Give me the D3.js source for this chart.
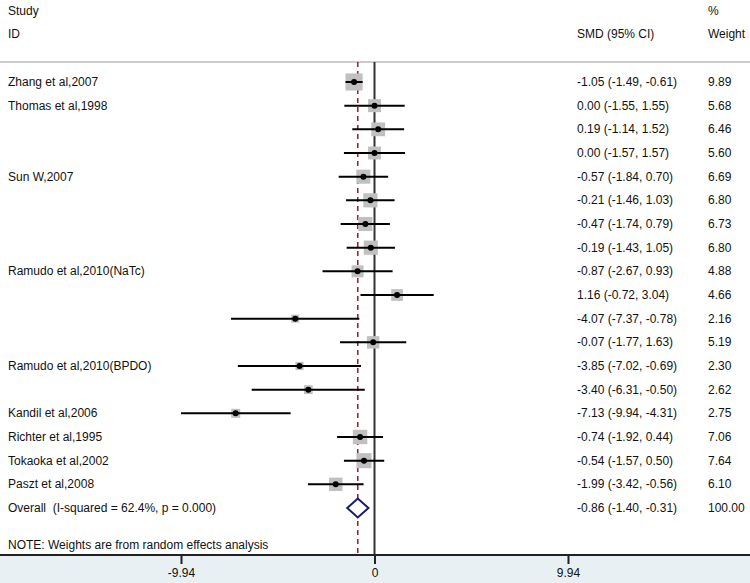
<!DOCTYPE html>
<html>
<head>
<meta charset="utf-8">
<script src="https://cdn.jsdelivr.net/npm/d3@7"></script>
<style>
  body { margin: 0; background: #fff; }
  text { font-family: "Liberation Sans", Arial, sans-serif; font-size: 12px; fill: #111; white-space: pre; }
</style>
</head>
<body>
<div id="forest"></div>
<script>
const studies = ['Zhang et al,2007', 'Thomas et al,1998', '', '', 'Sun W,2007', '', '', '',
	'Ramudo et al,2010(NaTc)', '', '', '', 'Ramudo et al,2010(BPDO)', '', 'Kandil et al,2006',
	'Richter et al,1995', 'Tokaoka et al,2002', 'Paszt et al,2008'];
const smd = [-1.05, 0.00, 0.19, 0.00, -0.57, -0.21, -0.47, -0.19, -0.87, 1.16, -4.07, -0.07, -3.85, -3.40, -7.13, -0.74, -0.54, -1.99];
const lower = [-1.49, -1.55, -1.14, -1.57, -1.84, -1.46, -1.74, -1.43, -2.67, -0.72, -7.37, -1.77, -7.02, -6.31, -9.94, -1.92, -1.57, -3.42];
const upper = [-0.61, 1.55, 1.52, 1.57, 0.70, 1.03, 0.79, 1.05, 0.93, 3.04, -0.78, 1.63, -0.69, -0.50, -4.31, 0.44, 0.50, -0.56];
const weights = ['9.89', '5.68', '6.46', '5.60', '6.69', '6.80', '6.73', '6.80', '4.88', '4.66', '2.16', '5.19', '2.30', '2.62', '2.75', '7.06', '7.64', '6.10'];
const overall = { label: 'Overall  (I-squared = 62.4%, p = 0.000)', est: -0.86, lo: -1.40, hi: -0.31, weight: '100.00' };
const tickValues = [-9.94, 0, 9.94];
const tickLabels = ['-9.94', '0', '9.94'];

const width = 750, height = 583;
const axisY = 555;
const headerY = 62;

const svg = d3.select('#forest').append('svg').attr('width', width).attr('height', height);

const x = d3.scaleLinear().domain([-9.94, 9.94]).range([181, 568]);
const y = d3.scaleLinear().domain([0, studies.length]).range([82, 508]);
const boxSize = d3.scaleSqrt().domain([0, 10]).range([0, 17.2]);

const fmt = v => v.toFixed(2);

// bottom band
svg.append('rect').attr('x', 0).attr('y', axisY).attr('width', width).attr('height', height - axisY).attr('fill', '#e8f0f3');

// headers
svg.append('text').attr('x', 8).attr('y', 15).text('Study');
svg.append('text').attr('x', 8).attr('y', 38).text('ID');
svg.append('text').attr('x', 577).attr('y', 38).text('SMD (95% CI)');
svg.append('text').attr('x', 708).attr('y', 15).text('%');
svg.append('text').attr('x', 708).attr('y', 38).text('Weight');
svg.append('line').attr('x1', 0).attr('x2', width).attr('y1', headerY).attr('y2', headerY)
	.attr('stroke', '#999').attr('stroke-width', 1.2);

// reference lines
svg.append('line').attr('x1', x(0)).attr('x2', x(0)).attr('y1', headerY).attr('y2', axisY)
	.attr('stroke', '#333').attr('stroke-width', 2);
svg.append('line').attr('x1', x(overall.est)).attr('x2', x(overall.est)).attr('y1', headerY).attr('y2', axisY)
	.attr('stroke', '#9a2238').attr('stroke-width', 1.6).attr('stroke-dasharray', '5,4');

const rows = svg.selectAll('g.row')
	.data(smd.map((d, i) => ({ i, est: d, lo: lower[i], hi: upper[i], w: weights[i], name: studies[i] })))
	.enter().append('g').attr('class', 'row');

rows.append('rect')
	.attr('x', d => x(d.est) - boxSize(+d.w) / 2)
	.attr('y', d => y(d.i) - boxSize(+d.w) / 2)
	.attr('width', d => boxSize(+d.w))
	.attr('height', d => boxSize(+d.w))
	.attr('fill', '#c0c0c0');

rows.append('line')
	.attr('x1', d => x(d.lo)).attr('x2', d => x(d.hi))
	.attr('y1', d => y(d.i)).attr('y2', d => y(d.i))
	.attr('stroke', '#000').attr('stroke-width', 2);

rows.append('circle')
	.attr('cx', d => x(d.est)).attr('cy', d => y(d.i)).attr('r', 3)
	.attr('fill', '#000');

rows.append('text').attr('x', 8).attr('y', d => y(d.i) + 4).text(d => d.name);
rows.append('text').attr('x', 577).attr('y', d => y(d.i) + 4)
	.text(d => `${fmt(d.est)} (${fmt(d.lo)}, ${fmt(d.hi)})`);
rows.append('text').attr('x', 708).attr('y', d => y(d.i) + 4).text(d => d.w);

// overall
const oy = y(studies.length);
svg.append('path')
	.attr('d', `M${x(overall.lo)},${oy} L${x(overall.est)},${oy - 9.5} L${x(overall.hi)},${oy} L${x(overall.est)},${oy + 9.5} Z`)
	.attr('fill', '#fff').attr('stroke', '#1a1a6e').attr('stroke-width', 2);
svg.append('text').attr('x', 8).attr('y', oy + 4).text(overall.label);
svg.append('text').attr('x', 577).attr('y', oy + 4)
	.text(`${fmt(overall.est)} (${fmt(overall.lo)}, ${fmt(overall.hi)})`);
svg.append('text').attr('x', 708).attr('y', oy + 4).text(overall.weight);

svg.append('text').attr('x', 8).attr('y', 549).text('NOTE: Weights are from random effects analysis');

// axis
const axis = d3.axisBottom(x).tickValues(tickValues).tickFormat((d, i) => tickLabels[i]).tickSize(9).tickSizeOuter(0);
const gAxis = svg.append('g').attr('transform', `translate(0,${axisY})`).call(axis);
gAxis.select('.domain').remove();
gAxis.selectAll('.tick line').attr('stroke', '#222').attr('stroke-width', 2);
gAxis.selectAll('.tick text').attr('y', 13).attr('dy', '0.71em').style('font-size', '12px').style('font-family', '"Liberation Sans", Arial, sans-serif').attr('fill', '#111');
svg.append('line').attr('x1', 0).attr('x2', width).attr('y1', axisY).attr('y2', axisY)
	.attr('stroke', '#222').attr('stroke-width', 2);
</script>
</body>
</html>
